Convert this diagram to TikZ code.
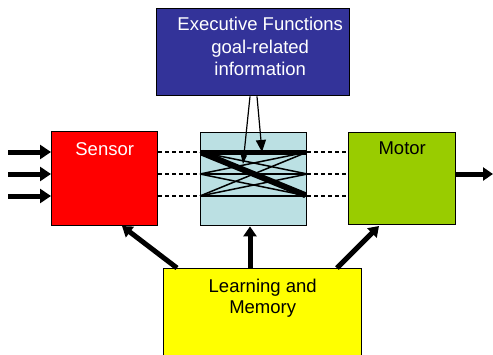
\documentclass[tikz,border=0pt]{standalone}
\usepackage{fontspec}
\setmainfont{Liberation Sans}
\usepackage{xcolor}
\usetikzlibrary{arrows.meta,positioning}

\definecolor{sensorred}{HTML}{FF0000}
\definecolor{motorgreen}{HTML}{99CC00}
\definecolor{mixblue}{HTML}{BBE0E3}
\definecolor{execblue}{HTML}{333399}
\definecolor{memyellow}{HTML}{FFFF00}

\begin{document}
\begin{tikzpicture}[
    x=1pt, y=-1pt,
    font=\fontsize{18.5}{21}\selectfont,
    % Styles
    block/.style={rectangle, draw=black, line width=1.4pt, inner sep=0pt, anchor=north west},
    toptext/.style={anchor=north, align=center, inner sep=0pt},
    inarrow/.style={-{Triangle[length=11pt, width=14pt]}, line width=5pt},
    bigarrow/.style={-{Triangle[length=10pt, width=13pt]}, line width=5pt},
    link/.style={line width=1.5pt},
    dashlink/.style={dash pattern=on 4pt off 3pt, line width=1.3pt}
]
\useasboundingbox (0,0) rectangle (493,354);

% --- Boxes ---
\node[block, fill=execblue, minimum width=193pt, minimum height=87pt] (exec) at (156,8) {};
\node[toptext, text=white, font=\fontsize{18.5}{22.5}\selectfont] (exec_txt) at ([xshift=7pt, yshift=-9pt]exec.north) {Executive Functions\\goal-related\\information};
\node[block, fill=sensorred, minimum width=106pt, minimum height=94pt,
      label={[toptext, text=white, yshift=-11pt]north:Sensor}] (sensor) at (51,131) {};
\node[block, fill=mixblue, minimum width=106pt, minimum height=93pt] (mix) at (200,132) {};
\node[block, fill=motorgreen, minimum width=107pt, minimum height=92pt,
      label={[toptext, yshift=-10pt]north:Motor}] (motor) at (348,132) {};
\node[block, fill=memyellow, minimum width=198pt, minimum height=90pt,
      label={[toptext, yshift=-11pt]north:{Learning and\\Memory}}] (memory) at (163,268) {};

% --- Channels ---
\foreach \i/\yy in {1/152, 2/174, 3/196} {
    \coordinate (l\i) at (mix.west |- 0,\yy);
    \coordinate (r\i) at (mix.east |- 0,\yy);
    \coordinate (s\i) at (sensor.east |- 0,\yy);
    \coordinate (m\i) at (motor.west |- 0,\yy);
    \coordinate (in\i) at (8,\yy);
    \draw[dashlink] (s\i) -- (l\i);
    \draw[dashlink] (r\i) -- (m\i);
    \draw[inarrow] (in\i) -- (sensor.west |- in\i);
}

% Crossings in the middle box
\foreach \a in {1,2,3}
    \foreach \b in {1,2,3}
        \draw[link] (l\a) -- (r\b);
\draw[line width=5pt] (l1) -- (r1);
\draw[line width=2.5pt] (l2) -- (r2);
\draw[line width=1.8pt] (l3) -- (r3);
\draw[line width=6pt, shorten <=2pt, shorten >=2pt] (l1) -- (r3);

% Top-down signals
\coordinate (tipa) at (243,164);
\coordinate (tipb) at (262,152);
\draw[-{Triangle[length=9pt, width=6pt]}, line width=1.2pt] (exec.south -| 250,0) -- (tipa);
\draw[-{Triangle[length=12pt, width=10pt]}, line width=1.2pt] (exec.south -| 257,0) -- (tipb);

% Output
\coordinate (out) at (493,174);
\draw[bigarrow] (motor.east |- out) -- (out);

% Learning and memory feedback
\draw[bigarrow] (memory.north -| 177,0) -- (122,226);
\draw[bigarrow] (memory.north -| 250,0) -- (mix.south -| 250,0);
\draw[bigarrow] (memory.north -| 337,0) -- (379,226);

\end{tikzpicture}
\end{document}
